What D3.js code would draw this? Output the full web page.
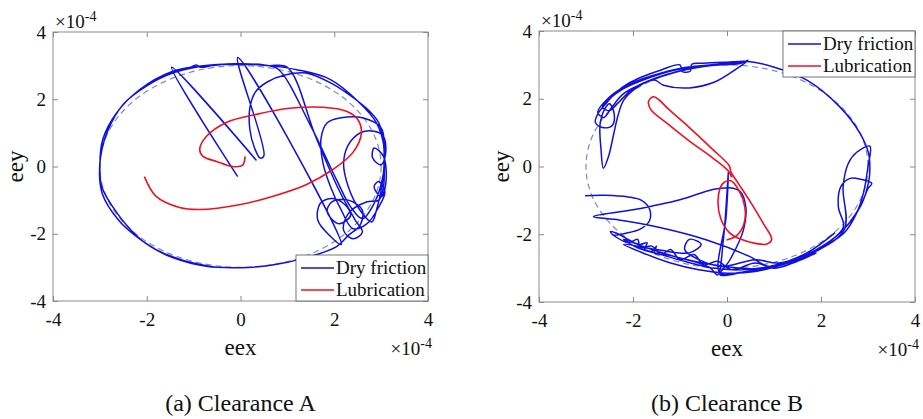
<!DOCTYPE html>
<html><head><meta charset="utf-8">
<script src="https://cdn.jsdelivr.net/npm/d3@7"></script>
<style>
body{margin:0;background:#fff;}
svg{display:block;}
</style></head>
<body><svg id="c" width="923" height="419" font-family="Liberation Serif, Tinos, Times New Roman, DejaVu Serif, serif"></svg>
<script>
// ---------------- data (units of 1e-4) ----------------
const tickValues = [-4, -2, 0, 2, 4];
const tickLabels = ["-4", "-2", "0", "2", "4"];
const clearanceRadius = 3;
const seriesNames = ["Dry friction", "Lubrication"];
const panelCaptions = ["(a) Clearance A", "(b) Clearance B"];
const axisTitles = ["eex", "eey"];

// Clearance A - lubrication orbit
const lubA = [[-2.05,-0.3],[-1.8,-0.89],[-1.3,-1.22],[-0.87,-1.28],[0,-1.13],[0.68,-0.89],[1.4,-0.54],[1.97,-0.09],[2.4,0.42],[2.58,1.0],[2.5,1.4],[2.26,1.64],[1.75,1.76],[1.05,1.73],[0.34,1.55],[-0.3,1.31],[-0.73,0.89],[-0.87,0.5],[-0.8,0.3],[-0.51,0.15],[-0.17,0.0],[0.04,0.03],[0.1,0.3]];

// Clearance A - dry friction orbit (null = break)
const dryA = [[0.34,0.18],[-1.47,2.95],[-0.06,-0.3],null,
 [-2.15,2.29],[-1.8,2.6],[-1.47,2.8],[-1.1,2.93],[-0.95,3.02],[-0.85,2.95],[-0.6,3.0],[-0.3,3.05],[0.1,3.05],[0.6,3.0],[1.0,2.95],
 [1.6,0.9],[2.1,-0.7],[2.45,-1.6],[2.6,-1.95],[2.4,-2.15],[2.2,-1.9],[2.3,-1.4],[2.7,-1.05],[2.95,-1.0],[3.05,-0.6],[3.07,0],[3.07,0.6],[3.0,1.15],
 [2.6,1.45],[2.15,1.45],[1.85,1.3],[1.72,0.85],[1.76,0.1],[1.92,-0.6],[2.15,-1.3],[2.4,-1.85],[2.7,-1.7],[2.95,-1.2],[3.08,-0.75],[2.95,-0.45],[2.85,-0.6],[3.0,-0.9],
 [3.1,-0.5],[3.05,0.3],[2.85,0.55],[2.82,0.25],[3.0,0.05],[3.1,0.45],[3.02,0.95],
 [2.65,1.05],[2.35,0.75],[2.2,0.15],[2.3,-0.6],[2.55,-1.3],[2.8,-1.65],[2.9,-1.3],
 [3.05,-0.2],[3.05,0.7],[2.95,1.3],[2.75,1.65],[2.45,2.0],[1.97,2.45],[1.4,2.78],
 [0.95,2.72],[0.58,2.52],[0.32,2.22],[0.2,1.75],[0.2,1.1],[0.3,0.55],[0.42,0.25],[0.5,0.33],
 [-0.06,3.24],
 [2.15,-2.32],
 [1.9,-2.05],[1.65,-1.6],[1.7,-1.1],[1.95,-0.95],[2.2,-1.1],[2.35,-1.45],[2.1,-1.7],[1.85,-1.35],[1.95,-1.05],[2.3,-1.0],[2.6,-1.3],[2.55,-1.75],[2.3,-2.05],[2.05,-2.38],
 [1.4,-2.71],[0.68,-2.93],[0,-3.01],[-0.73,-2.97],[-1.45,-2.71],[-1.9,-2.4],[-2.2,-2.08],[-2.64,-1.37],[-2.96,-0.6],[-3.0,0],[-2.94,0.8],[-2.64,1.6],[-2.15,2.29],
 [-1.47,2.82],[-0.9,2.98],[-0.2,3.05],[0.5,3.02],[0.8,2.9],[1.5,1.2],[2.05,-0.4],[2.35,-1.2],[2.6,-1.55],[2.85,-1.1],[3.05,-0.2],[3.06,0.6],[2.9,1.3],[2.5,1.95],[1.9,2.6],[1.2,2.88],
 [0.6,3.0],[0,3.04],[-0.7,3.0],[-1.4,2.8],[-2.0,2.4],[-2.5,1.85],[-2.85,1.0],[-3.0,0.1],[-2.95,-0.8],[-2.6,-1.6],[-2.25,-2.05],[-1.8,-2.47],[-1.2,-2.8],[-0.5,-3.0]];

// Clearance B - lubrication orbit
const lubB = [[-0.01,-2.17],[0.2,-2.05],[0.36,-1.7],[0.38,-1.2],[0.25,-0.7],[0.08,-0.42],[-0.1,-0.52],[-0.19,-1.0],[-0.13,-1.55],[0.05,-1.95],[0.3,-2.15],[0.6,-2.27],[0.85,-2.29],[0.95,-2.15],[0.78,-1.7],[0.5,-1.05],[0.24,-0.5],[0.08,-0.15],[0.05,0.02],[-0.3,0.5],[-0.8,1.15],[-1.25,1.7],[-1.45,1.97],[-1.57,2.06],[-1.67,1.92],[-1.62,1.68],[-1.3,1.3],[-0.8,0.75],[-0.3,0.25],[0.02,-0.12],[0.1,-0.32]];

// Clearance B - dry friction orbit (null = break)
const dryB = [[-3.02,-0.86],[-2.6,-0.85],[-2.1,-0.9],[-1.82,-1.0],[-1.65,-1.25],[-1.65,-1.6],[-1.85,-1.85],[-2.15,-1.97],[-2.42,-2.02],[-2.48,-1.92],[-2.3,-2.0],
 [-2.05,-2.2],[-1.85,-2.3],[-1.7,-2.25],[-1.75,-2.45],[-1.6,-2.5],[-1.5,-2.35],[-1.55,-2.55],[-1.3,-2.6],[-1.0,-2.7],[-0.6,-2.85],[-0.35,-3.0],[-0.2,-3.2],
 [-0.08,-2.2],[0.03,-0.15],[-0.02,-1.5],[-0.15,-3.15],
 [0.3,-3.12],[1.0,-2.96],[1.7,-2.6],[2.4,-1.97],[2.83,-1.19],[3.0,-0.65],[3.08,-0.5],
 [2.85,-0.38],[2.62,-0.35],[2.42,-0.6],[2.37,-1.2],[2.48,-1.78],[2.2,-2.2],[1.6,-2.65],[0.9,-2.95],[0.3,-3.05],[-0.3,-3.0],[-0.9,-2.8],[-1.4,-2.6],[-1.9,-2.4],[-2.2,-2.15],
 [-1.6,-2.45],[-1.0,-2.7],[-0.3,-2.9],[0.5,-3.02],[1.2,-2.88],[1.9,-2.5],[2.5,-1.85],
 [2.47,-0.6],[2.58,0.09],[2.76,0.42],[3.04,0.6],[3.0,0.0],[2.9,-0.8],[2.75,-1.4],[2.5,-1.95],[2.2,-2.25],[1.5,-2.7],[0.91,-2.96],
 [0.49,-2.66],[-0.43,-2.17],[-1.5,-1.78],[-2.3,-1.58],[-2.84,-1.48],[-2.0,-1.28],[-1.0,-0.98],[-0.3,-0.68],[0.05,-0.63],[0.28,-0.74],[0.4,-1.19],[0.35,-1.87],[0.06,-2.76],[-0.15,-3.2],
 [0.4,-3.1],[1.1,-2.92],[1.8,-2.55],[2.45,-1.9],[2.85,-1.15],[3.02,-0.4],[3.04,0.0],[3.01,0.4],[2.83,0.98],[2.4,1.76],[1.7,2.55],[0.99,2.94],[0.45,3.1],[0.0,3.08],[-0.5,3.05],[-0.75,3.02],[-0.78,2.82],[-0.95,2.8],[-1.0,3.0],[-1.4,2.85],[-1.8,2.65],[-2.1,2.45],[-2.35,2.2],[-2.55,1.9],[-2.75,1.55],[-2.8,1.3],[-2.65,1.15],[-2.45,1.2],[-2.4,1.55],[-2.5,1.85],[-2.6,1.7],[-2.7,1.25],[-2.68,0.5],[-2.63,-0.05],[-2.52,0.3],[-2.42,0.9],[-2.32,1.5],[-2.2,1.95],[-1.95,2.3],[-1.55,2.55],[-1.35,2.4],[-0.8,2.32],[-0.25,2.5],[0.2,2.88],[0.45,3.14],[0.3,3.05],[-0.4,2.98],[-1.1,2.85],[-1.7,2.6],[-2.2,2.3],[-2.5,2.0],[-2.65,1.75],[-2.5,1.65],[-2.3,1.9],
 [-2.0,2.3],[-1.5,2.62],[-0.9,2.86],[-0.3,3.0],[0.35,3.08],[-0.2,3.02],[-0.9,2.92],[-1.6,2.68],[-2.15,2.38],[-2.5,2.05],[-2.75,1.6],[-2.62,1.45],[-2.45,1.75],[-2.2,2.15],[-1.7,2.5],[-1.1,2.78],[-0.5,2.95],[0.2,3.04],null,
 [-2.45,-2.0],[-2.1,-2.25],[-1.9,-2.15],[-1.85,-2.4],[-1.6,-2.35],[-1.4,-2.6],[-1.2,-2.45],[-1.0,-2.75],[-0.7,-2.6],[-0.5,-2.9],[-0.2,-2.8],[0.1,-3.05],[0.6,-2.85],[1.0,-3.0],[1.4,-2.85],[1.9,-2.55],
 [1.3,-2.85],[0.6,-3.1],[0.0,-3.15],[-0.6,-3.05],[-1.2,-2.85],[-1.7,-2.6],[-2.2,-2.3],[-1.5,-2.45],[-0.8,-2.55],[-0.55,-2.3],[-0.8,-2.15],[-0.9,-2.45],[-0.6,-2.75],[-0.1,-2.95],[0.6,-2.75],[1.1,-2.85],[1.7,-2.55],[2.3,-1.95]];

// ---------------- drawing ----------------
const FONT = "Liberation Serif, Tinos, Times New Roman, DejaVu Serif, serif";
const svg = d3.select("#c");
const BLUE = "#1010e0", RED = "#f01020", DASH = "#8088c8", AXC = "#8a8a8a", TXT = "#111";

const panels = [
  {x0:53, x1:428, y0:32, y1:301, dry:dryA, lub:lubA, legend:"bottom", cap:panelCaptions[0]},
  {x0:539, x1:915, y0:31, y1:302, dry:dryB, lub:lubB, legend:"top", cap:panelCaptions[1]}
];

function txt(sel, size) {
  return sel.attr("font-family", FONT).attr("font-size", size).attr("fill", TXT);
}

panels.forEach(p => {
  const x = d3.scaleLinear().domain([-4,4]).range([p.x0,p.x1]);
  const y = d3.scaleLinear().domain([-4,4]).range([p.y1,p.y0]);
  const g = svg.append("g");

  const cid = "clip" + p.x0;
  svg.append("clipPath").attr("id", cid).append("rect")
    .attr("x", p.x0).attr("y", p.y0).attr("width", p.x1-p.x0).attr("height", p.y1-p.y0);

  const plot = g.append("g").attr("clip-path", `url(#${cid})`);
  plot.append("ellipse")
    .attr("cx", x(0)).attr("cy", y(0))
    .attr("rx", x(clearanceRadius)-x(0)).attr("ry", y(0)-y(clearanceRadius))
    .attr("fill","none").attr("stroke",DASH).attr("stroke-width",1.2).attr("stroke-dasharray","6,4");

  const line = d3.line().defined(d => d !== null).x(d => x(d[0])).y(d => y(d[1])).curve(d3.curveCatmullRom.alpha(0.5));
  plot.append("path").datum(p.dry).attr("d", line).attr("fill","none").attr("stroke",BLUE).attr("stroke-width",1.5).attr("stroke-linejoin","round");
  plot.append("path").datum(p.lub).attr("d", line).attr("fill","none").attr("stroke",RED).attr("stroke-width",1.6).attr("stroke-linejoin","round");

  g.append("rect").attr("x",p.x0).attr("y",p.y0).attr("width",p.x1-p.x0).attr("height",p.y1-p.y0)
    .attr("fill","none").attr("stroke",AXC).attr("stroke-width",1);

  const fmt = d => tickLabels[tickValues.indexOf(d)];
  const ax = [
    {a:d3.axisBottom(x).tickPadding(12), t:`translate(0,${p.y1})`, lab:true},
    {a:d3.axisTop(x).tickPadding(0), t:`translate(0,${p.y0})`, lab:false},
    {a:d3.axisLeft(y).tickPadding(7), t:`translate(${p.x0},0)`, lab:true},
    {a:d3.axisRight(y).tickPadding(0), t:`translate(${p.x1},0)`, lab:false}
  ];
  ax.forEach(o => {
    const ag = g.append("g").attr("transform", o.t)
      .call(o.a.tickValues(tickValues).tickFormat(o.lab ? fmt : () => "").tickSizeInner(-5).tickSizeOuter(0));
    ag.select(".domain").remove();
    ag.selectAll("line").attr("stroke", AXC);
    ag.attr("font-family", FONT).attr("font-size", 19);
    txt(ag.selectAll("text"), 19);
  });

  const e1 = txt(g.append("text").attr("x", p.x0+2).attr("y", p.y0-4), 19);
  e1.append("tspan").text("×10");
  e1.append("tspan").attr("dy",-7).attr("font-size",14).text("-4");
  const e2 = txt(g.append("text").attr("x", p.x1+4).attr("y", p.y1+54).attr("text-anchor","end"), 19);
  e2.append("tspan").text("×10");
  e2.append("tspan").attr("dy",-7).attr("font-size",14).text("-4");

  txt(g.append("text").attr("x",(p.x0+p.x1)/2).attr("y",p.y1+54).attr("text-anchor","middle"), 23).text(axisTitles[0]);
  txt(g.append("text").attr("transform",`translate(${p.x0-30},${(p.y0+p.y1)/2}) rotate(-90)`).attr("text-anchor","middle"), 23).text(axisTitles[1]);

  txt(g.append("text").attr("x",(p.x0+p.x1)/2).attr("y",411).attr("text-anchor","middle"), 24).text(p.cap);

  const lw = 132, lh = 46;
  const lx = p.x1 - lw, ly = p.legend === "bottom" ? p.y1 - lh : p.y0;
  const lg = g.append("g").attr("transform",`translate(${lx},${ly})`);
  lg.append("rect").attr("width",lw).attr("height",lh).attr("fill","#fff").attr("stroke","#555").attr("stroke-width",0.8);
  [BLUE, RED].forEach((c,i) => {
    const yy = 13 + i*22;
    lg.append("line").attr("x1",5).attr("x2",38).attr("y1",yy).attr("y2",yy).attr("stroke",c).attr("stroke-width",1.6);
    txt(lg.append("text").attr("x",40).attr("y",yy+6), 19).text(seriesNames[i]);
  });
});
</script></body></html>
